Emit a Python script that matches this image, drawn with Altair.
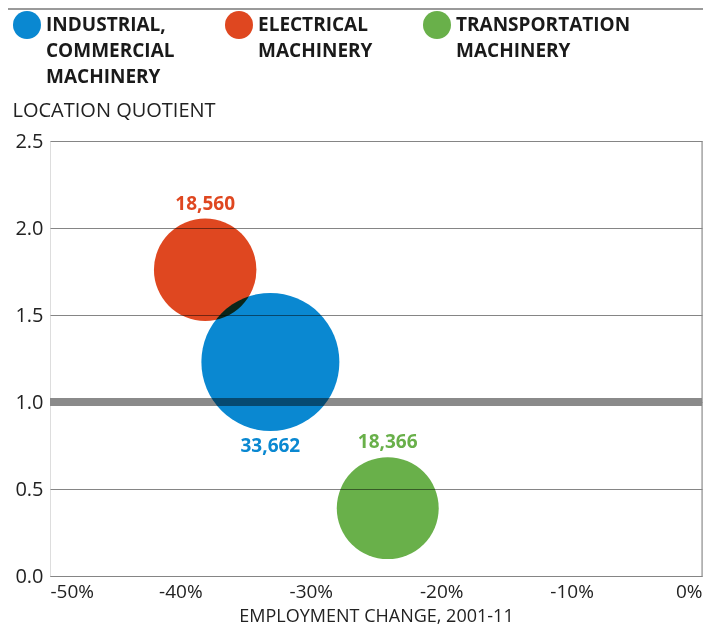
import altair as alt
import pandas as pd

# ---- data ----
categories = ["INDUSTRIAL,|COMMERCIAL|MACHINERY", "ELECTRICAL|MACHINERY", "TRANSPORTATION|MACHINERY"]
employment_change = [-33.1, -38.1, -24.1]      # % change 2001-11
location_quotient = [1.23, 1.76, 0.39]
employment = [33662, 18560, 18366]
label_side = [1, -1, -1]                       # 1 = label below bubble, -1 = above
colors = ["#0a88d1", "#df4720", "#69b04a"]
x_ticks = [-50, -40, -30, -20, -10, 0]
y_ticks = [0, 0.5, 1.0, 1.5, 2.0, 2.5]

df = pd.DataFrame({
    "sector": categories,
    "change": employment_change,
    "lq": location_quotient,
    "employment": employment,
    "side": label_side,
})

W, H = 652, 435
Y_MAX = 2.5
PX_PER_UNIT = H / Y_MAX
R_MAX = 69.0                      # radius (px) of the largest bubble
EMP_MAX = max(employment)
SIZE_MAX = (2 * R_MAX) ** 2       # vega circle: r = sqrt(size)/2

FONT = "Open Sans"
TXT = "#222222"
GRID = "#858585"

x_enc = alt.X("change:Q",
              scale=alt.Scale(domain=[-50, 0], nice=False, zero=False),
              axis=alt.Axis(values=x_ticks, labelExpr="datum.value + '%'",
                            grid=False, ticks=False, domain=True,
                            domainColor=GRID, domainWidth=1,
                            labelFont=FONT, labelFontSize=19, labelColor=TXT,
                            labelPadding=6, labelFlush=True, labelFlushOffset=0,
                            title="EMPLOYMENT CHANGE, 2001-11",
                            titleFont=FONT, titleFontSize=18, titleFontWeight="normal",
                            titleColor=TXT, titleBaseline="alphabetic", titleY=45))
y_enc = alt.Y("lq:Q",
              scale=alt.Scale(domain=[0, Y_MAX], nice=False),
              axis=alt.Axis(values=y_ticks, format=".1f",
                            grid=True, gridColor=GRID, gridWidth=1,
                            ticks=False, domain=False,
                            labelFont=FONT, labelFontSize=20, labelColor=TXT,
                            labelPadding=7,
                            title="LOCATION QUOTIENT", titleAngle=0,
                            titleAlign="left", titleBaseline="middle",
                            titleX=-38, titleY=-31,
                            titleFont=FONT, titleFontSize=20, titleFontWeight="normal",
                            titleColor=TXT))

legend_label = ("length(split(datum.label, '|')) < 3 ? "
                "split(datum.label + '| ', '|') : split(datum.label, '|')")

color_enc = alt.Color("sector:N",
                      scale=alt.Scale(domain=categories, range=colors),
                      legend=alt.Legend(orient="none", legendX=-37, legendY=-130,
                                        direction="horizontal", columns=3,
                                        columnPadding=50, padding=0,
                                        title=None,
                                        labelExpr=legend_label,
                                        labelFont=FONT, labelFontSize=19,
                                        labelFontWeight="bold", labelColor="#1a1a1a",
                                        labelLimit=400, labelOffset=5,
                                        labelBaseline="middle",
                                        symbolType="circle", symbolSize=784,
                                        symbolStrokeWidth=0, symbolOpacity=1))

base = alt.Chart(df)

bubbles = base.mark_circle(opacity=1, blend="multiply").encode(
    x=x_enc, y=y_enc, color=color_enc,
    size=alt.Size("employment:Q",
                  scale=alt.Scale(domain=[0, EMP_MAX], range=[0, SIZE_MAX], zero=True),
                  legend=None),
)

labels = base.transform_calculate(
    label_lq=(f"datum.lq - datum.side * ({R_MAX} * sqrt(datum.employment / {EMP_MAX}) + 15)"
              f" / {PX_PER_UNIT}"),
    txt="format(datum.employment, ',')",
).mark_text(font=FONT, fontSize=19, fontWeight="bold", baseline="middle").encode(
    x="change:Q",
    y=alt.Y("label_lq:Q"),
    text="txt:N",
    color=alt.Color("sector:N", scale=alt.Scale(domain=categories, range=colors), legend=None),
)

ref_line = alt.Chart(pd.DataFrame({"lq": [1.0]})).mark_rule(
    color="#8a8a8a", strokeWidth=8).encode(y="lq:Q")

right_edge = alt.Chart(pd.DataFrame({"change": [0]})).mark_rule(
    color=GRID, strokeWidth=1).encode(x="change:Q")

top_border = alt.Chart(pd.DataFrame({"a": [0]})).mark_rule(
    color="#9a9a9a", strokeWidth=2).encode(
    x=alt.value(-42), x2=alt.value(W + 1), y=alt.value(-132))

chart = alt.layer(top_border, ref_line, right_edge, bubbles, labels).properties(
    width=W, height=H,
    autosize=alt.AutoSizeParams(type="none"),
    padding={"left": 42, "top": 133, "right": 1, "bottom": 51},
).configure_view(stroke=None).configure(
    font=FONT,
    style={"guide-label": {"lineHeight": 26}},
)

chart.save("out.html", embed_options={"renderer": "svg", "actions": False})
